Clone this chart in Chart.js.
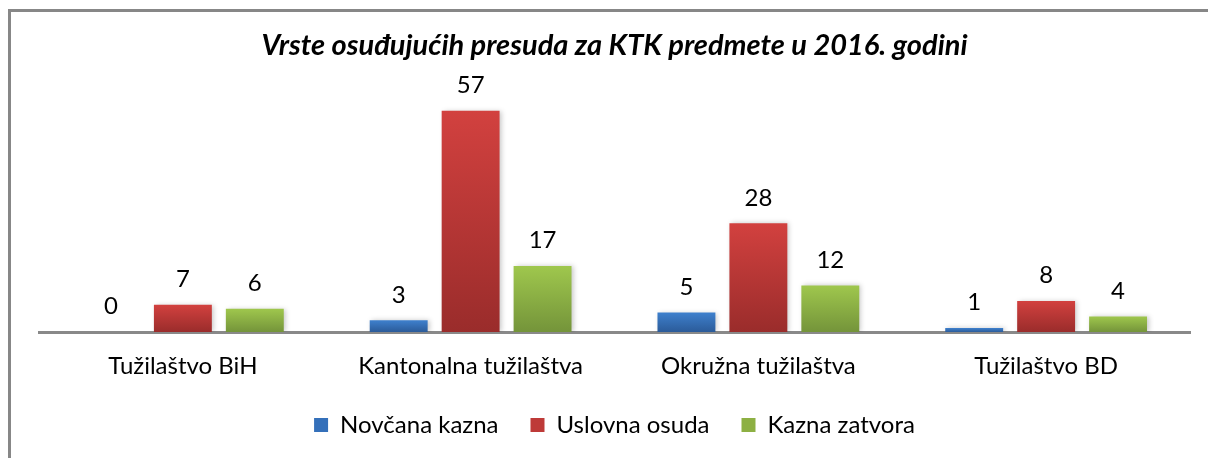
<!DOCTYPE html>
<html>
<head>
<meta charset="utf-8">
<script src="https://cdn.jsdelivr.net/npm/chart.js@4.4.1/dist/chart.umd.min.js"></script>
<style>
  html, body { margin: 0; padding: 0; background: #fff; }
  canvas { display: block; }
</style>
</head>
<body>
<canvas id="myChart" width="1208" height="458"></canvas>
<script>
const chartTitle = 'Vrste osuđujućih presuda za KTK predmete u 2016. godini';
const categories = ['Tužilaštvo BiH', 'Kantonalna tužilaštva', 'Okružna tužilaštva', 'Tužilaštvo BD'];
const seriesNames = ['Novčana kazna', 'Uslovna osuda', 'Kazna zatvora'];
const novcanaKazna = [0, 3, 5, 1];
const uslovnaOsuda = [7, 57, 28, 8];
const kaznaZatvora = [6, 17, 12, 4];

// gradient top / bottom for the bars, flat colour for the legend squares
const barColors = [
  { top: '#3e80cd', bottom: '#2b5b99', flat: '#3470ba' },
  { top: '#d2413f', bottom: '#9a2c2b', flat: '#be3a38' },
  { top: '#9fc74d', bottom: '#74943a', flat: '#8db043' }
];

Chart.defaults.font.family = 'Lato';
Chart.defaults.color = '#000';

function barFill(i) {
  return function (ctx) {
    const c = barColors[i];
    const chart = ctx.chart;
    if (ctx.type !== 'data' || !chart.chartArea) return c.flat;
    const y = chart.scales.y;
    const top = y.getPixelForValue(ctx.raw);
    const base = y.getPixelForValue(0);
    if (base - top < 1) return c.top;
    const g = chart.ctx.createLinearGradient(0, top, 0, base);
    g.addColorStop(0, c.top);
    g.addColorStop(1, c.bottom);
    return g;
  };
}

// gray frame on the top and left side of the picture
const frame = {
  id: 'frame',
  beforeDraw(chart) {
    const ctx = chart.ctx;
    ctx.save();
    ctx.fillStyle = '#fff';
    ctx.fillRect(0, 0, chart.width, chart.height);
    ctx.fillStyle = '#878787';
    ctx.fillRect(8, 9, chart.width - 8, 3);
    ctx.fillRect(8, 9, 3, chart.height - 9);
    ctx.restore();
  }
};

// soft shadow on the bars + numbers above them
const barExtras = {
  id: 'barExtras',
  beforeDatasetsDraw(chart) {
    const ctx = chart.ctx;
    ctx.save();
    ctx.shadowColor = 'rgba(0,0,0,0.22)';
    ctx.shadowBlur = 5;
    ctx.shadowOffsetX = 2;
    ctx.shadowOffsetY = 0;
  },
  afterDatasetsDraw(chart) {
    const ctx = chart.ctx;
    ctx.restore();
    ctx.save();
    ctx.font = '24px Lato';
    ctx.fillStyle = '#000';
    ctx.textAlign = 'center';
    ctx.textBaseline = 'middle';
    chart.data.datasets.forEach(function (ds, i) {
      chart.getDatasetMeta(i).data.forEach(function (bar, j) {
        ctx.fillText(ds.data[j], bar.x, bar.y - 25.5);
      });
    });
    ctx.restore();
  }
};

const seriesData = [novcanaKazna, uslovnaOsuda, kaznaZatvora];

new Chart(document.getElementById('myChart'), {
  type: 'bar',
  data: {
    labels: categories,
    datasets: seriesNames.map(function (name, i) {
      return {
        label: name,
        data: seriesData[i],
        backgroundColor: barFill(i),
        borderWidth: 0,
        categoryPercentage: 0.75,
        barPercentage: 0.805
      };
    })
  },
  options: {
    responsive: false,
    devicePixelRatio: 1,
    animation: false,
    layout: { padding: { left: 39, right: 18, top: 0, bottom: 11 } },
    scales: {
      x: {
        z: 1,
        grid: { display: false },
        border: { display: true, color: '#898989', width: 3 },
        ticks: { color: '#000', font: { size: 24 }, padding: 11.5 },
        afterFit: function (scale) { scale.height = 49; }
      },
      y: { display: false, min: 0, max: 60 }
    },
    plugins: {
      title: {
        display: true,
        text: chartTitle,
        color: '#000',
        font: { size: 29, weight: 'bold', style: 'italic' },
        padding: { top: 28, bottom: 36.4 }
      },
      legend: {
        position: 'bottom',
        labels: {
          boxWidth: 14,
          boxHeight: 14,
          padding: 32,
          color: '#000',
          font: { size: 24 },
          generateLabels: function (chart) {
            return chart.data.datasets.map(function (ds, i) {
              return {
                text: ds.label,
                fillStyle: barColors[i].flat,
                strokeStyle: barColors[i].flat,
                lineWidth: 0,
                hidden: false,
                datasetIndex: i
              };
            });
          }
        }
      },
      tooltip: { enabled: false }
    }
  },
  plugins: [frame, barExtras]
});
</script>
</body>
</html>
